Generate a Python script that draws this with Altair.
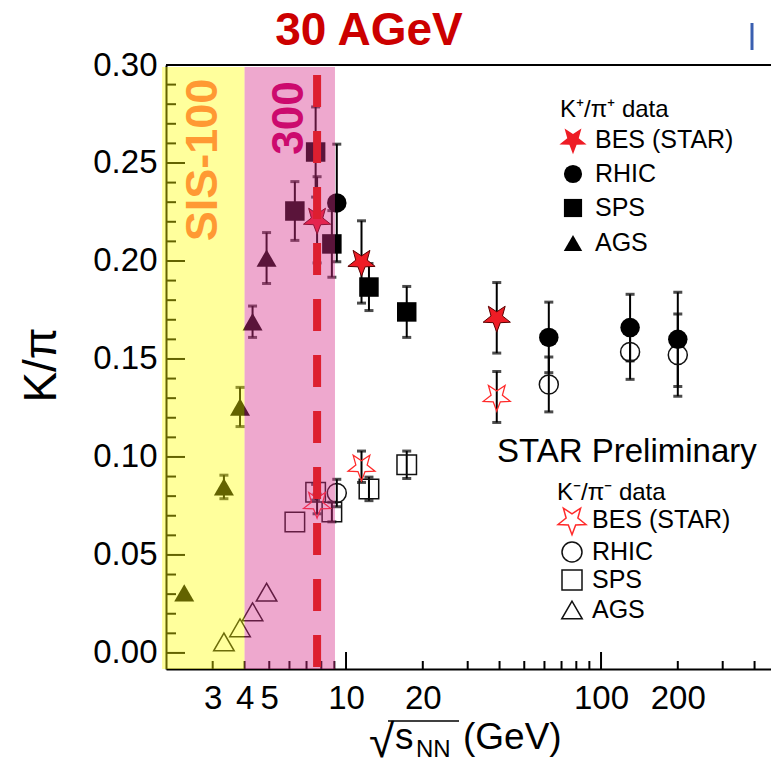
import altair as alt
import pandas as pd

# ---------------- data ----------------
# K+/pi+  (filled symbols)
kp_bes_x = [7.7, 11.5, 39.0]
kp_bes_y = [0.221, 0.1995, 0.171]
kp_bes_e = [0.022, 0.021, 0.018]
kp_rhic_x = [9.2, 62.4, 130.0, 200.0]
kp_rhic_y = [0.2296, 0.161, 0.166, 0.160]
kp_rhic_e = [0.030, 0.018, 0.017, 0.024]
kp_sps_x = [6.3, 7.6, 8.8, 12.3, 17.3]
kp_sps_y = [0.2255, 0.2556, 0.2087, 0.1867, 0.174]
kp_sps_e = [0.015, 0.023, 0.017, 0.012, 0.013]
kp_ags_x = [2.32, 3.32, 3.84, 4.3, 4.88]
kp_ags_y = [0.0306, 0.0847, 0.1255, 0.169, 0.2015]
kp_ags_e = [0.0, 0.006, 0.010, 0.008, 0.013]
# K-/pi-  (open symbols)
km_bes_x = [7.7, 11.5, 39.0]
km_bes_y = [0.076, 0.095, 0.1306]
km_bes_e = [0.005, 0.008, 0.013]
km_rhic_x = [9.2, 62.4, 130.0, 200.0]
km_rhic_y = [0.0816, 0.137, 0.1536, 0.152]
km_rhic_e = [0.007, 0.014, 0.014, 0.021]
km_sps_x = [6.3, 7.6, 8.8, 12.3, 17.3]
km_sps_y = [0.0668, 0.082, 0.0719, 0.0837, 0.096]
km_sps_e = [0.0, 0.004, 0.005, 0.006, 0.007]
km_ags_x = [3.32, 3.84, 4.3, 4.88]
km_ags_y = [0.0056, 0.0128, 0.021, 0.031]
km_ags_e = [0.0, 0.0, 0.0, 0.0]

# shaded regions and marker line
sis100_band = [1.9, 4.0]
sis300_band = [4.0, 9.05]
band_y = [-0.0082, 0.299]
agev30_x = [7.7]
agev30_y = [0.2949, -0.0082]

# axes
x_domain = [1.968, 464.0]
y_domain = [-0.0082, 0.30]
x_tick_labels = [3, 4, 5, 10, 20, 100, 200]
x_major_ticks = [10, 100]
x_minor_ticks = [3, 4, 5, 6, 7, 8, 9, 20, 30, 40, 50, 60, 70, 80, 90, 200, 300, 400]
y_tick_labels = [0.0, 0.05, 0.10, 0.15, 0.20, 0.25, 0.30]
y_minor_ticks = [0.01, 0.02, 0.03, 0.04, 0.06, 0.07, 0.08, 0.09, 0.11, 0.12, 0.13,
                 0.14, 0.16, 0.17, 0.18, 0.19, 0.21, 0.22, 0.23, 0.24, 0.26, 0.27,
                 0.28, 0.29]

# texts
title_text = ["30 AGeV"]
sis100_text = ["SIS-100"]
sis300_text = ["300"]
ylabel_text = ["K/π"]
prelim_text = ["STAR Preliminary"]
kp_header = ["K⁺/π⁺ data"]
km_header = ["K⁻/π⁻ data"]
legend_names = ["BES (STAR)", "RHIC", "SPS", "AGS"]

# ---------------- styling ----------------
FONT = "Liberation Sans"
W, H = 605, 604
STAR = ("M0,1L0.25,0.34L0.951,0.309L0.4,-0.13L0.588,-0.809L0,-0.42"
        "L-0.588,-0.809L-0.4,-0.13L-0.951,0.309L-0.25,0.34Z")

xs = alt.Scale(type="log", domain=x_domain, nice=False)
ys = alt.Scale(domain=y_domain, nice=False, zero=False)
xaxis = alt.Axis(values=x_tick_labels, format="d", title=None, ticks=False, tickSize=0,
                 grid=False, domainColor="black", domainWidth=2, labelFontSize=33,
                 labelFont=FONT, labelColor="black", labelPadding=13,
                 labelOverlap=False, labelFlush=False)
yaxis = alt.Axis(values=y_tick_labels, format=".2f", title=None, ticks=False, tickSize=0,
                 grid=False, domainColor="black", domainWidth=2, labelFontSize=33,
                 labelFont=FONT, labelColor="black", labelPadding=9,
                 labelOverlap=False, labelFlush=False)


def X(f):
    return alt.X(f, type="quantitative", scale=xs, axis=xaxis)


def Y(f):
    return alt.Y(f, type="quantitative", scale=ys, axis=yaxis)


def frame(xv, yv, ev):
    return pd.DataFrame({"x": xv, "y": yv, "e": ev})


layers = []

# inward tick marks
layers.append(alt.Chart(pd.DataFrame({"v": y_tick_labels})).mark_rule(color="black", strokeWidth=2)
              .encode(y=Y("v"), x=alt.value(0), x2=alt.value(19)))
layers.append(alt.Chart(pd.DataFrame({"v": y_minor_ticks})).mark_rule(color="black", strokeWidth=2)
              .encode(y=Y("v"), x=alt.value(0), x2=alt.value(10)))
layers.append(alt.Chart(pd.DataFrame({"v": x_major_ticks})).mark_rule(color="black", strokeWidth=2)
              .encode(x=X("v"), y=alt.value(H), y2=alt.value(H - 17)))
layers.append(alt.Chart(pd.DataFrame({"v": x_minor_ticks})).mark_rule(color="black", strokeWidth=2)
              .encode(x=X("v"), y=alt.value(H), y2=alt.value(H - 8)))
# top frame line
layers.append(alt.Chart(pd.DataFrame({"v": [0]})).mark_rule(color="black", strokeWidth=2)
              .encode(x=alt.value(0), x2=alt.value(W), y=alt.value(0)))

# error bars
all_sets = [
    (kp_bes_x, kp_bes_y, kp_bes_e), (kp_rhic_x, kp_rhic_y, kp_rhic_e),
    (kp_sps_x, kp_sps_y, kp_sps_e), (kp_ags_x, kp_ags_y, kp_ags_e),
    (km_bes_x, km_bes_y, km_bes_e), (km_rhic_x, km_rhic_y, km_rhic_e),
    (km_sps_x, km_sps_y, km_sps_e), (km_ags_x, km_ags_y, km_ags_e),
]
err = pd.concat([frame(*s) for s in all_sets], ignore_index=True)
err = err[err["e"] > 0].copy()
err["lo"] = err["y"] - err["e"]
err["hi"] = err["y"] + err["e"]
caps = pd.concat([pd.DataFrame({"x": err["x"], "c": err["lo"]}),
                  pd.DataFrame({"x": err["x"], "c": err["hi"]})], ignore_index=True)
layers.append(alt.Chart(err).mark_rule(color="black", strokeWidth=2)
              .encode(x=X("x"), y=Y("lo"), y2=alt.Y2("hi")))
layers.append(alt.Chart(caps).mark_tick(color="black", orient="horizontal", size=9, thickness=3)
              .encode(x=X("x"), y=Y("c")))


def pts(xv, yv, ev, shape, size, filled, color, stroke=None, sw=1.5):
    kw = dict(shape=shape, size=size, filled=filled, opacity=1)
    if filled:
        kw["fill"] = color
        if stroke:
            kw["stroke"] = stroke
            kw["strokeWidth"] = sw
        else:
            kw["strokeWidth"] = 0
    else:
        kw["stroke"] = color
        kw["strokeWidth"] = sw
        kw["fillOpacity"] = 0
    return alt.Chart(frame(xv, yv, ev)).mark_point(**kw).encode(x=X("x"), y=Y("y"))


# open markers (K-/pi-)
layers.append(pts(km_rhic_x, km_rhic_y, km_rhic_e, "circle", 361, False, "#111111"))
layers.append(pts(km_sps_x, km_sps_y, km_sps_e, "square", 380, False, "#111111"))
layers.append(pts(km_ags_x, km_ags_y, km_ags_e, "triangle-up", 420, False, "#111111"))
layers.append(pts(km_bes_x, km_bes_y, km_bes_e, STAR, 800, False, "#ff2a2a", sw=1.3))
# filled markers (K+/pi+)
layers.append(pts(kp_rhic_x, kp_rhic_y, kp_rhic_e, "circle", 380, True, "#000000"))
layers.append(pts(kp_sps_x, kp_sps_y, kp_sps_e, "square", 380, True, "#000000"))
layers.append(pts(kp_ags_x, kp_ags_y, kp_ags_e, "triangle-up", 400, True, "#000000"))
layers.append(pts(kp_bes_x, kp_bes_y, kp_bes_e, STAR, 820, True, "#ee1c25", stroke="#5a0000", sw=1))

# translucent bands drawn over the data
bands = pd.DataFrame({"x0": [sis100_band[0], sis300_band[0]], "x1": [sis100_band[1], sis300_band[1]],
                      "y0": [band_y[0]] * 2, "y1": [band_y[1]] * 2,
                      "name": ["SIS-100", "SIS-300"]})
layers.append(alt.Chart(bands).mark_rect(clip=False).encode(
    x=X("x0"), x2=alt.X2("x1"), y=Y("y0"), y2=alt.Y2("y1"),
    color=alt.Color("name:N", scale=alt.Scale(domain=["SIS-100", "SIS-300"],
                                              range=["#ffff00", "#d6308a"]), legend=None),
    opacity=alt.Opacity("name:N", scale=alt.Scale(domain=["SIS-100", "SIS-300"],
                                                  range=[0.39, 0.42]), legend=None)))

# 30 AGeV dashed line
layers.append(alt.Chart(pd.DataFrame({"x": agev30_x, "ya": [agev30_y[0]], "yb": [agev30_y[1]]}))
              .mark_rule(color="#dd1f30", strokeWidth=8, strokeDash=[32, 24])
              .encode(x=X("x"), y=Y("ya"), y2=alt.Y2("yb")))


def txt(t, x, y, size, color="black", weight="normal", angle=0, align="left", baseline="middle"):
    kw = dict(font=FONT, fontSize=size, color=color, fontWeight=weight, align=align, baseline=baseline)
    if angle:
        kw["angle"] = angle
    return alt.Chart(pd.DataFrame({"t": t})).mark_text(**kw).encode(
        text="t:N", x=alt.value(x), y=alt.value(y))


layers.append(txt(title_text, 203, -20, 46, "#cc0000", "bold", align="center", baseline="alphabetic"))
layers.append(txt(sis100_text, 37, 95, 45, "#ff9933", "bold", angle=270, align="center"))
layers.append(txt(sis300_text, 124, 53, 44, "#cc0a6e", "bold", angle=270, align="center"))
layers.append(txt(ylabel_text, -124, 300, 46, angle=270, align="center"))
layers.append(txt(prelim_text, 331, 387, 33))

# x-axis title: sqrt(s_NN) (GeV)
layers.append(txt(["√"], 203, 692, 46, baseline="alphabetic"))
layers.append(txt(["s"], 229, 684, 37, baseline="alphabetic"))
layers.append(txt(["NN"], 250, 692, 24, baseline="alphabetic"))
layers.append(txt(["(GeV)"], 297, 684, 37, baseline="alphabetic"))
layers.append(alt.Chart(pd.DataFrame({"v": [0]})).mark_rule(color="black", strokeWidth=1.5)
              .encode(x=alt.value(222), x2=alt.value(293), y=alt.value(656)))

# blue fragment at the top right of the slide
layers.append(alt.Chart(pd.DataFrame({"v": [0]})).mark_rule(color="#3a5fb0", strokeWidth=3)
              .encode(x=alt.value(586), y=alt.value(-42), y2=alt.value(-15)))

# legends (manual)
layers.append(txt(kp_header, 394, 45, 24))
kp_y = [75, 109, 143, 178]
for name, yy in zip(legend_names, kp_y):
    layers.append(txt([name], 429, yy, 25))
leg_kp = [(STAR, 820, "#ee1c25"), ("circle", 330, "black"),
          ("square", 330, "black"), ("triangle-up", 340, "black")]
for (shape, size, col), yy in zip(leg_kp, kp_y):
    layers.append(alt.Chart(pd.DataFrame({"v": [0]})).mark_point(
        shape=shape, size=size, filled=True, fill=col, strokeWidth=0, opacity=1)
        .encode(x=alt.value(407), y=alt.value(yy)))

layers.append(txt(km_header, 391, 428, 24))
km_y = [455, 487, 515, 545]
for name, yy in zip(legend_names, km_y):
    layers.append(txt([name], 426, yy, 25))
leg_km = [(STAR, 860, "#ff2a2a"), ("circle", 400, "#111111"),
          ("square", 400, "#111111"), ("triangle-up", 420, "#111111")]
for (shape, size, col), yy in zip(leg_km, km_y):
    layers.append(alt.Chart(pd.DataFrame({"v": [0]})).mark_point(
        shape=shape, size=size, filled=False, stroke=col, strokeWidth=1.5, opacity=1, fillOpacity=0)
        .encode(x=alt.value(406), y=alt.value(yy)))

chart = alt.layer(*layers).properties(
    width=W, height=H,
    autosize=alt.AutoSizeParams(type="none"),
    padding={"left": 166, "top": 65, "right": 0, "bottom": 92},
    background="white",
).configure_view(stroke=None)

chart.save("out.html", embed_options={"renderer": "svg", "actions": False})
